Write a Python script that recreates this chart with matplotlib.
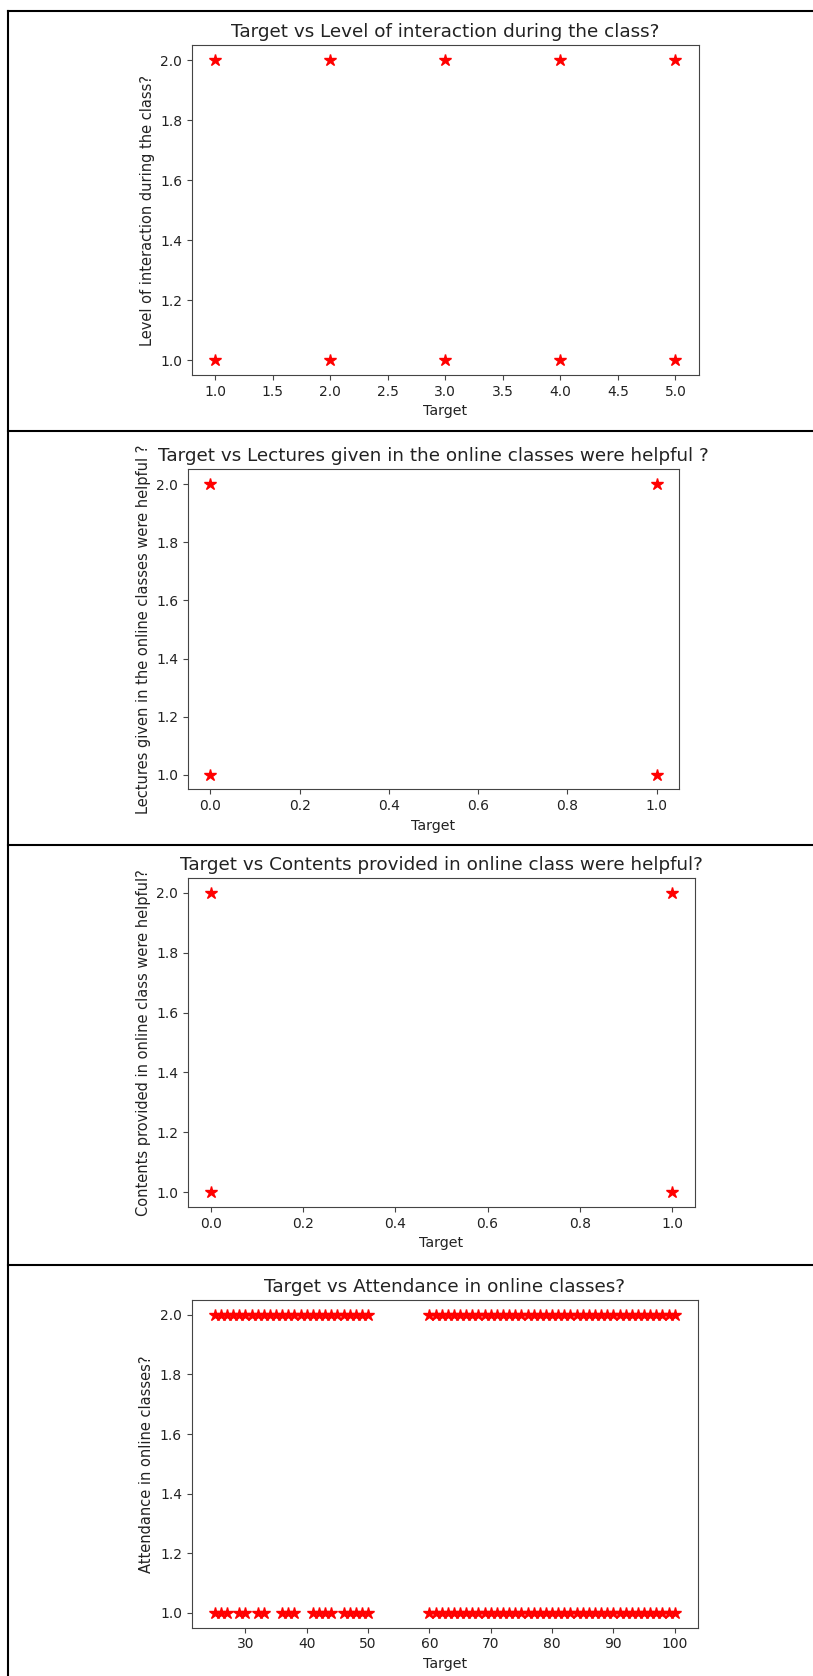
import matplotlib.pyplot as plt
from matplotlib.lines import Line2D

W, H = 813, 1676

# Target vs Level of interaction during the class?
interaction_target = [1, 2, 3, 4, 5, 1, 2, 3, 4, 5]
interaction_level = [2, 2, 2, 2, 2, 1, 1, 1, 1, 1]

# Target vs Lectures given in the online classes were helpful ?
lectures_target = [0, 1, 0, 1]
lectures_helpful = [2, 2, 1, 1]

# Target vs Contents provided in online class were helpful?
contents_target = [0, 1, 0, 1]
contents_helpful = [2, 2, 1, 1]

# Target vs Attendance in online classes?
attend_target_2 = [25, 26, 27, 28, 29, 30, 31, 32, 33, 34, 35, 36, 37, 38, 39, 40,
                   41, 42, 43, 44, 45, 46, 47, 48, 49, 50,
                   60, 61, 62, 63, 64, 65, 66, 67, 68, 69, 70, 71, 72, 73, 74, 75,
                   76, 77, 78, 79, 80, 81, 82, 83, 84, 85, 86, 87, 88, 89, 90, 91,
                   92, 93, 94, 95, 96, 97, 98, 99, 100]
attend_target_1 = [25, 26, 27, 29, 30, 32, 33, 36, 37, 38, 41, 42, 43, 44,
                   46, 47, 48, 49, 50,
                   60, 61, 62, 63, 64, 65, 66, 67, 68, 69, 70, 71, 72, 73, 74, 75,
                   76, 77, 78, 79, 80, 81, 82, 83, 84, 85, 86, 87, 88, 89, 90, 91,
                   92, 93, 94, 95, 96, 97, 98, 99, 100]
attend_target = attend_target_2 + attend_target_1
attend_level = [2] * len(attend_target_2) + [1] * len(attend_target_1)

panels = [
    (interaction_target, interaction_level, "Level of interaction during the class?",
     (192, 45, 698.5, 375)),
    (lectures_target, lectures_helpful, "Lectures given in the online classes were helpful ?",
     (188, 469.5, 679, 789.5)),
    (contents_target, contents_helpful, "Contents provided in online class were helpful?",
     (188, 878, 695, 1207)),
    (attend_target, attend_level, "Attendance in online classes?",
     (191.7, 1300, 697.7, 1627.7)),
]

fig = plt.figure(figsize=(W / 100, H / 100), dpi=100)

for x, y, name, (l, t, r, b) in panels:
    ax = fig.add_axes([l / W, 1 - b / H, (r - l) / W, (b - t) / H])
    ax.plot(x, y, "r*", markersize=9)
    ax.set_title("Target vs " + name, fontsize=13.2, color="#222222")
    ax.set_xlabel("Target", fontsize=10.3, color="#222222")
    ax.set_ylabel(name, fontsize=10.5, color="#222222")
    ax.tick_params(labelsize=10, labelcolor="#222222", color="#444444")
    for sp in ax.spines.values():
        sp.set_color("#444444")

# frame lines between the stacked outputs
for yb in [11, 431.5, 845, 1265]:
    fig.add_artist(Line2D([8 / W, 1], [1 - yb / H] * 2, color="black", lw=1.5))
fig.add_artist(Line2D([8 / W] * 2, [0, 1 - 11 / H], color="black", lw=1.5))

fig.savefig("out.png", dpi=100)
